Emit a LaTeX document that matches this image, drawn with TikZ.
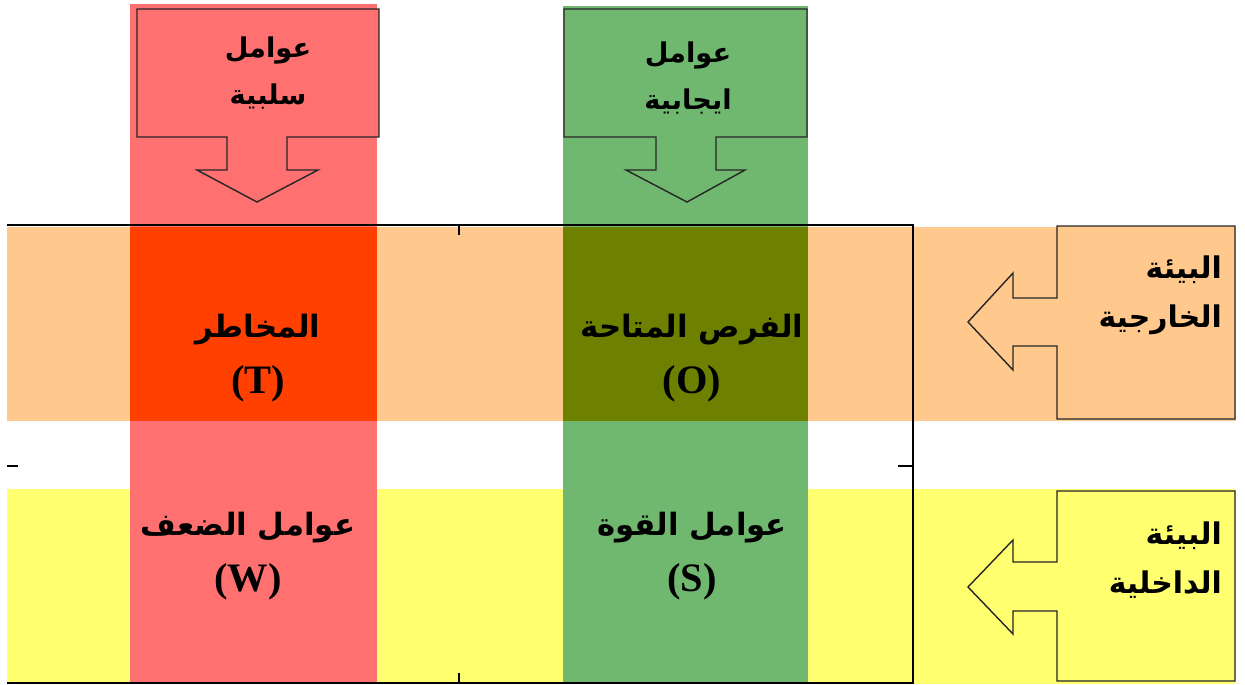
\documentclass[tikz,border=0pt]{standalone}
\usepackage{fontspec}
\setmainfont{Liberation Serif}
\newfontfamily\arabicfont[Script=Arabic]{DejaVu Sans}
\TeXXeTstate=1
\definecolor{outercol}{HTML}{FFC88C}
\definecolor{innercol}{HTML}{FFFF70}
\definecolor{negcol}{HTML}{FF7070}
\definecolor{poscol}{HTML}{70B870}
\definecolor{threatcol}{HTML}{FF4000}
\definecolor{opportcol}{HTML}{6E8000}
\tikzset{
 arrowbox/.style={draw=black!85,line width=0.8pt},
 toplbl/.style={font=\arabicfont\bfseries\fontsize{15.5}{27}\selectfont,align=center},
 cell/.style={font=\arabicfont\bfseries\fontsize{17.5}{32}\selectfont,align=center},
 side/.style={font=\arabicfont\bfseries\fontsize{17}{28}\selectfont,align=right,anchor=east},
 tick/.style={black,line width=0.8pt}
}
\newcommand{\ar}[1]{\beginR #1\endR}
\newcommand{\lt}[1]{{\rmfamily\bfseries\fontsize{23}{32}\selectfont #1}}
\begin{document}
\begin{tikzpicture}[x=0.02cm,y=-0.02cm]
 \useasboundingbox (0,0) rectangle (1245,684);
 % bands
 \fill[outercol](7,227) rectangle (1236,421);
 \fill[innercol](7,489) rectangle (1236,684);
 \fill[negcol](130,4) rectangle (377,684);
 \fill[poscol](563,6) rectangle (808,684);
 \fill[threatcol](130,227) rectangle (377,421);
 \fill[opportcol](563,227) rectangle (808,421);
 % frame and ticks
 \draw[tick](7,225)--(913,225)--(913,683)--(7,683);
 \draw[tick](459,225)--(459,235);
 \draw[tick](459,673)--(459,683);
 \draw[tick](7,466)--(18,466);
 \draw[tick](898,466)--(913,466);
 % arrow boxes
 \draw[arrowbox,fill=negcol](137,9)--(379,9)--(379,137)--(287,137)--(287,170)--(318,170)--(257,202)--(197,170)--(227,170)--(227,137)--(137,137)--cycle;
 \draw[arrowbox,fill=poscol](564,9)--(807,9)--(807,137)--(716,137)--(716,170)--(745,170)--(687,202)--(626,170)--(656,170)--(656,137)--(564,137)--cycle;
 \draw[arrowbox,fill=outercol](1235,226)--(1235,419)--(1057,419)--(1057,346)--(1013,346)--(1013,370)--(968,322)--(1013,273)--(1013,298)--(1057,298)--(1057,226)--cycle;
 \draw[arrowbox,fill=innercol](1235,491)--(1235,681)--(1057,681)--(1057,611)--(1013,611)--(1013,634)--(968,587)--(1013,540)--(1013,562)--(1057,562)--(1057,491)--cycle;
 % labels
 \node[toplbl] (neg) at (268,73) {\ar{عوامل}\\\ar{سلبية}};
 \node[toplbl] (pos) at (688,78) {\ar{عوامل}\\\ar{ايجابية}};
 \node[cell] (T) at (258,358) {\ar{المخاطر}\\\lt{(T)}};
 \node[cell] (O) at (692,358) {\ar{الفرص المتاحة}\\\lt{(O)}};
 \node[cell] (W) at (248,556) {\ar{عوامل الضعف}\\\lt{(W)}};
 \node[cell] (S) at (692,556) {\ar{عوامل القوة}\\\lt{(S)}};
 \node[side] (ext) at (1228,295) {\ar{البيئة}\\\ar{الخارجية}};
 \node[side] (int) at (1228,560) {\ar{البيئة}\\\ar{الداخلية}};
\end{tikzpicture}
\end{document}
